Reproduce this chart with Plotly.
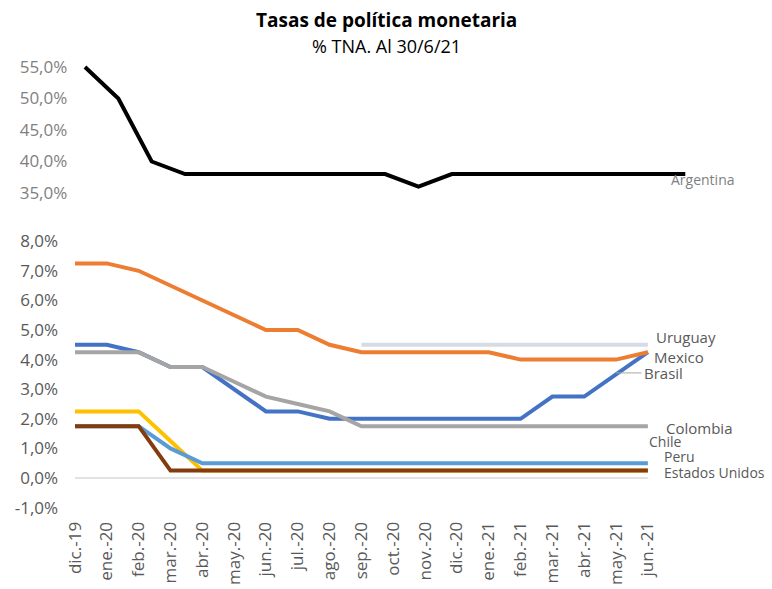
import plotly.graph_objects as go

months = ["dic.-19", "ene.-20", "feb.-20", "mar.-20", "abr.-20", "may.-20", "jun.-20",
          "jul.-20", "ago.-20", "sep.-20", "oct.-20", "nov.-20", "dic.-20", "ene.-21",
          "feb.-21", "mar.-21", "abr.-21", "may.-21", "jun.-21"]

argentina = [55, 50, 40, 38, 38, 38, 38, 38, 38, 38, 36, 38, 38, 38, 38, 38, 38, 38, 38]
mexico = [7.25, 7.25, 7.0, 6.5, 6.0, 5.5, 5.0, 5.0, 4.5, 4.25, 4.25, 4.25, 4.25, 4.25,
          4.0, 4.0, 4.0, 4.0, 4.25]
brasil = [4.5, 4.5, 4.25, 3.75, 3.75, 3.0, 2.25, 2.25, 2.0, 2.0, 2.0, 2.0, 2.0, 2.0,
          2.0, 2.75, 2.75, 3.5, 4.25]
colombia = [4.25, 4.25, 4.25, 3.75, 3.75, 3.25, 2.75, 2.5, 2.25, 1.75, 1.75, 1.75, 1.75,
            1.75, 1.75, 1.75, 1.75, 1.75, 1.75]
uruguay = [None, None, None, None, None, None, None, None, None, 4.5, 4.5, 4.5, 4.5, 4.5,
           4.5, 4.5, 4.5, 4.5, 4.5]
peru = [2.25, 2.25, 2.25, 1.25, 0.25, 0.25, 0.25, 0.25, 0.25, 0.25, 0.25, 0.25, 0.25,
        0.25, 0.25, 0.25, 0.25, 0.25, 0.25]
chile = [1.75, 1.75, 1.75, 1.0, 0.5, 0.5, 0.5, 0.5, 0.5, 0.5, 0.5, 0.5, 0.5, 0.5, 0.5,
         0.5, 0.5, 0.5, 0.5]
eeuu = [1.75, 1.75, 1.75, 0.25, 0.25, 0.25, 0.25, 0.25, 0.25, 0.25, 0.25, 0.25, 0.25,
        0.25, 0.25, 0.25, 0.25, 0.25, 0.25]

bottom_ticks = [-1, 0, 1, 2, 3, 4, 5, 6, 7, 8]
top_ticks = [35, 40, 45, 50, 55]

idx = list(range(len(months)))
FONT = "Open Sans"
W = 4

fig = go.Figure()

bottom_series = [
    ("Uruguay", uruguay, "#D6DCE5"),
    ("Peru", peru, "#FFC000"),
    ("Chile", chile, "#5B9BD5"),
    ("Estados Unidos", eeuu, "#843C0C"),
    ("Brasil", brasil, "#4472C4"),
    ("Colombia", colombia, "#A5A5A5"),
    ("Mexico", mexico, "#ED7D31"),
]
for name, vals, col in bottom_series:
    fig.add_trace(go.Scatter(x=idx, y=vals, mode="lines", name=name,
                             line=dict(color=col, width=W), xaxis="x", yaxis="y",
                             connectgaps=False))

fig.add_trace(go.Scatter(x=idx, y=argentina, mode="lines", name="Argentina",
                         line=dict(color="#000000", width=W), xaxis="x2", yaxis="y2"))

fig.add_shape(type="line", xref="x", yref="y", x0=idx[0], x1=idx[-1], y0=0, y1=0,
              line=dict(color="#D9D9D9", width=1.5), layer="below")
fig.add_shape(type="line", xref="x", yref="y", x0=17.0, x1=17.8, y0=3.55, y1=3.55,
              line=dict(color="#A6A6A6", width=1))

lab_font = dict(family=FONT, size=15, color="#595959")
small_font = dict(family=FONT, size=14, color="#595959")
labels = [
    ("Uruguay", 18.2, 4.75, lab_font),
    ("Mexico", 18.12, 4.09, lab_font),
    ("Brasil", 17.82, 3.55, lab_font),
    ("Colombia", 18.5, 1.69, lab_font),
    ("Chile", 17.98, 1.24, small_font),
    ("Peru", 18.45, 0.72, small_font),
    ("Estados Unidos", 18.45, 0.2, small_font),
]
for txt, x, y, f in labels:
    fig.add_annotation(text=txt, x=x, y=y, xref="x", yref="y", xanchor="left",
                       yanchor="middle", showarrow=False, font=f)
fig.add_annotation(text="Argentina", x=17.5, y=37.2, xref="x2", yref="y2",
                   xanchor="left", yanchor="middle", showarrow=False,
                   font=dict(family=FONT, size=14, color="#7F7F7F"))

H = 589.0
fig.add_annotation(text="<b>Tasas de política monetaria</b>", x=0.5, y=(H - 20) / H,
                   xref="paper", yref="paper", showarrow=False, yanchor="middle",
                   font=dict(family=FONT, size=19, color="#000000"))
fig.add_annotation(text="% TNA. Al 30/6/21", x=0.5, y=(H - 46) / H, xref="paper",
                   yref="paper", showarrow=False, yanchor="middle",
                   font=dict(family=FONT, size=18, color="#000000"))

fig.update_layout(
    width=772, height=589,
    margin=dict(l=0, r=0, t=0, b=0),
    paper_bgcolor="white", plot_bgcolor="white",
    showlegend=False,
    font=dict(family=FONT),
    xaxis=dict(domain=[59.1 / 772, 1.0], range=[-0.5, 21.9], anchor="y",
               tickmode="array", tickvals=idx, ticktext=months, tickangle=-90,
               showgrid=False, zeroline=False, showline=False, ticks="",
               ticklabelstandoff=4, automargin=False,
               tickfont=dict(family=FONT, size=17, color="#595959")),
    yaxis=dict(domain=[(H - 513.5) / H, (H - 235.3) / H], range=[-1.2, 8.2],
               anchor="x", tickmode="array", tickvals=bottom_ticks,
               ticktext=[f"{v:.1f}%".replace(".", ",") for v in bottom_ticks],
               showgrid=False, zeroline=False, showline=False, automargin=False,
               tickfont=dict(family=FONT, size=17, color="#595959")),
    xaxis2=dict(domain=[68.3 / 772, 1.0], range=[-0.5, 20.6], anchor="y2",
                visible=False, showgrid=False, zeroline=False),
    yaxis2=dict(domain=[(H - 199.3) / H, (H - 60.7) / H], range=[34, 56],
                anchor="x2", tickmode="array", tickvals=top_ticks,
                ticktext=[f"{v:.1f}%".replace(".", ",") for v in top_ticks],
                showgrid=False, zeroline=False, showline=False, automargin=False,
                tickfont=dict(family=FONT, size=17, color="#7F7F7F")),
)

fig.write_html("out.html")
